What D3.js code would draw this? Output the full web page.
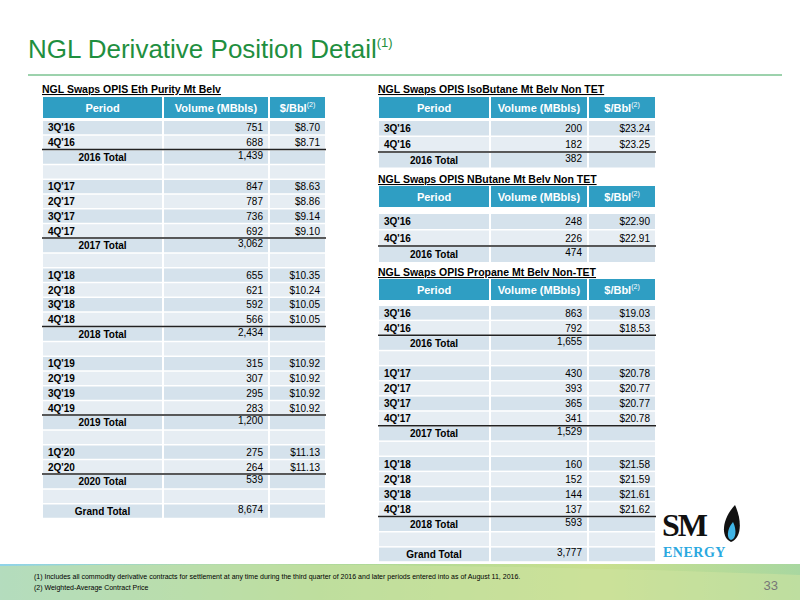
<!DOCTYPE html><html><head><meta charset="utf-8"><script src="https://d3js.org/d3.v7.min.js"></script>
<style>body{margin:0}svg{font-family:"Liberation Sans",Arial,sans-serif}</style></head><body><svg width="800" height="600"></svg><script>
const ethPeriods=["3Q'16","4Q'16","2016 Total","","1Q'17","2Q'17","3Q'17","4Q'17","2017 Total","","1Q'18","2Q'18","3Q'18","4Q'18","2018 Total","","1Q'19","2Q'19","3Q'19","4Q'19","2019 Total","","1Q'20","2Q'20","2020 Total","","Grand Total"];
const ethVolume=["751","688","1,439","","847","787","736","692","3,062","","655","621","592","566","2,434","","315","307","295","283","1,200","","275","264","539","","8,674"];
const ethPrice=["$8.70","$8.71","","","$8.63","$8.86","$9.14","$9.10","","","$10.35","$10.24","$10.05","$10.05","","","$10.92","$10.92","$10.92","$10.92","","","$11.13","$11.13","","",""];
const isoPeriods=["3Q'16","4Q'16","2016 Total"],isoVolume=["200","182","382"],isoPrice=["$23.24","$23.25",""];
const nbuPeriods=["3Q'16","4Q'16","2016 Total"],nbuVolume=["248","226","474"],nbuPrice=["$22.90","$22.91",""];
const proPeriods=["3Q'16","4Q'16","2016 Total","","1Q'17","2Q'17","3Q'17","4Q'17","2017 Total","","1Q'18","2Q'18","3Q'18","4Q'18","2018 Total","","Grand Total"];
const proVolume=["863","792","1,655","","430","393","365","341","1,529","","160","152","144","137","593","","3,777"];
const proPrice=["$19.03","$18.53","","","$20.78","$20.77","$20.77","$20.78","","","$21.58","$21.59","$21.61","$21.62","","",""];
const svg=d3.select("svg");
const defs=svg.append("defs");
const g=defs.append("linearGradient").attr("id","ft").attr("x1",0).attr("x2",1).attr("y1",0).attr("y2",0);
[["0%","#8fd3ea"],["40%","#a9d89a"],["75%","#c9df8e"],["100%","#a8d7a0"]].forEach(s=>g.append("stop").attr("offset",s[0]).attr("stop-color",s[1]));
svg.append("rect").attr("x",0).attr("y",564).attr("width",800).attr("height",36).attr("fill","url(#ft)");
svg.append("path").attr("d","M0,566 Q400,560 800,575 L800,600 L0,600Z").attr("fill","#cde3a0").attr("opacity",0.6);
const t=svg.append("text").attr("x",28).attr("y",58).attr("fill","#1f8f3f").attr("font-size",26).text("NGL Derivative Position Detail");
t.append("tspan").attr("font-size",13).attr("dy",-11).text("(1)");
svg.append("line").attr("x1",28).attr("x2",782).attr("y1",75).attr("y2",75).attr("stroke","#3aa55a").attr("stroke-width",1);
function table(x,title,titleY,headY,rowStart,rowH,cols,periods,vols,prices){
  svg.append("text").attr("x",x).attr("y",titleY).attr("font-size",10.5).attr("font-weight","bold").attr("text-decoration","underline").text(title);
  const edges=[x,x+cols[0],x+cols[0]+cols[1],x+cols[0]+cols[1]+cols[2]];
  const hdr=["Period","Volume (MBbls)","$/Bbl"];
  hdr.forEach((h,i)=>{svg.append("rect").attr("x",edges[i]+1).attr("y",headY).attr("width",cols[i]-2).attr("height",21).attr("fill","#2f9ec3");
    const tx=svg.append("text").attr("x",(edges[i]+edges[i+1])/2).attr("y",headY+15).attr("text-anchor","middle").attr("fill","#fff").attr("font-size",11).attr("font-weight","bold").text(h);
    if(i==2)tx.append("tspan").attr("font-size",7).attr("font-weight","normal").attr("dy",-5).text("(2)");});
  const y=d3.scaleBand().domain(d3.range(periods.length)).range([rowStart,rowStart+rowH*periods.length]);
  periods.forEach((p,r)=>{
    const isTot=/Total/.test(p);
    const fill=r%2?"#e6edf3":"#d5e2ec";
    for(let i=0;i<3;i++)svg.append("rect").attr("x",edges[i]+1).attr("y",y(r)+1).attr("width",cols[i]-2).attr("height",y.bandwidth()-1.5).attr("fill",fill);
    const cy=y(r)+y.bandwidth()/2+4;
    if(p)svg.append("text").attr("x",isTot?(edges[0]+edges[1])/2:edges[0]+6).attr("y",cy).attr("text-anchor",isTot?"middle":"start").attr("font-size",10).attr("font-weight","bold").text(p);
    if(vols[r])svg.append("text").attr("x",edges[2]-6).attr("y",isTot?cy-2:cy).attr("text-anchor","end").attr("font-size",10).text(vols[r]);
    if(prices[r])svg.append("text").attr("x",edges[3]-6).attr("y",cy).attr("text-anchor","end").attr("font-size",10).text(prices[r]);
    if(isTot&&!/Grand/.test(p))svg.append("line").attr("x1",x).attr("x2",edges[3]).attr("y1",y(r)).attr("y2",y(r)).attr("stroke","#222").attr("stroke-width",1.5);
  });
}
table(42,"NGL Swaps OPIS Eth Purity Mt Belv",93,97,120,14.75,[121,106,57],ethPeriods,ethVolume,ethPrice);
table(378,"NGL Swaps OPIS IsoButane Mt Belv Non TET",93,97,120,16,[112,98,68],isoPeriods,isoVolume,isoPrice);
table(378,"NGL Swaps OPIS NButane Mt Belv Non TET",183,186,213,16.5,[112,98,68],nbuPeriods,nbuVolume,nbuPrice);
table(378,"NGL Swaps OPIS Propane Mt Belv Non-TET",276,279,305,15.1,[112,98,68],proPeriods,proVolume,proPrice);
// logo
svg.append("text").attr("x",662).attr("y",536).attr("font-size",32).attr("font-weight","bold").attr("font-family","Liberation Serif").attr("fill","#111").attr("letter-spacing",-2).text("SM");
svg.append("path").attr("d","M735,505 C721,520 721,538 731,542 C742,538 742,520 735,505Z").attr("fill","#111");
svg.append("path").attr("d","M733,522 C726,530 727,539 731,540 C736,539 737,530 733,522Z").attr("fill","#3fb4e5");
svg.append("text").attr("x",663).attr("y",557).attr("font-size",14).attr("font-weight","bold").attr("fill","#2aa8e0").attr("font-family","Liberation Serif").attr("letter-spacing",0.5).text("ENERGY");
svg.append("text").attr("x",34).attr("y",579).attr("font-size",7).text("(1)     Includes all commodity derivative contracts for settlement at any time during the third quarter of 2016 and later periods entered into as of August 11, 2016.");
svg.append("text").attr("x",34).attr("y",590).attr("font-size",7).text("(2)     Weighted-Average Contract Price");
svg.append("text").attr("x",778).attr("y",590).attr("text-anchor","end").attr("font-size",13).attr("fill","#777").text("33");
</script></body></html>
